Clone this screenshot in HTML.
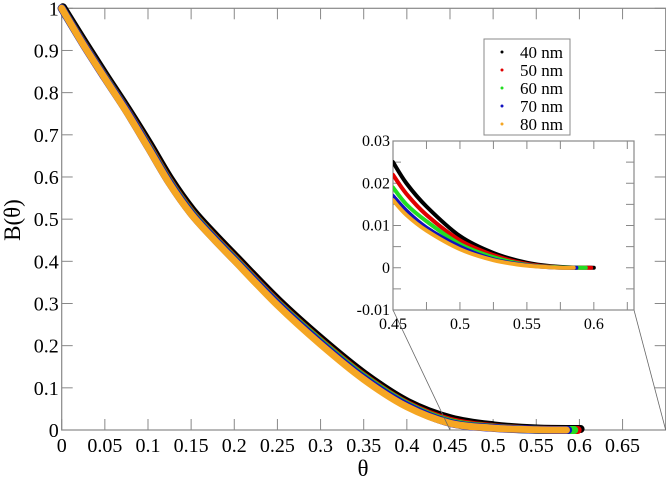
<!DOCTYPE html>
<html><head><meta charset="utf-8"><style>
html,body{margin:0;padding:0;background:#fff;}
svg{display:block;}
svg text{font-family:"Liberation Serif","DejaVu Serif","Times New Roman",serif;}
</style></head><body>
<svg id="chart" width="666" height="477" viewBox="0 0 666 477" xmlns="http://www.w3.org/2000/svg">
<defs><clipPath id="inclip"><rect x="393" y="141" width="241" height="169"/></clipPath></defs>
<g id="main"></g>
<g id="inset"></g>
<g id="legend"></g>
</svg>
<script>
const seriesNames=["40 nm","50 nm","60 nm","70 nm","80 nm"];
const seriesColors=["#000000","#e00000","#22dd22","#1010c0","#f5a623"];
const mainTheta=[0,0.025,0.05,0.075,0.1,0.125,0.15,0.175,0.2,0.25,0.3,0.35,0.4,0.45,0.5,0.55,0.6];
const main40=[1,0.918,0.838,0.76,0.678,0.592,0.52,0.463,0.41,0.305,0.213,0.13,0.064,0.025,0.0085,0.0012,0];
const main50=[1,0.917,0.837,0.759,0.676,0.59,0.518,0.461,0.408,0.303,0.211,0.128,0.062,0.022,0.007,0.0009,0];
const main60=[1,0.916,0.836,0.758,0.674,0.588,0.516,0.459,0.406,0.301,0.209,0.126,0.06,0.019,0.0058,0.0007,0];
const main70=[1,0.915,0.835,0.757,0.672,0.586,0.514,0.457,0.404,0.299,0.206,0.123,0.058,0.017,0.005,0.0006,0];
const main80=[1,0.914,0.834,0.755,0.67,0.584,0.512,0.455,0.402,0.296,0.203,0.12,0.055,0.016,0.0045,0.0005,0];
const insetTheta=[0.45,0.46,0.475,0.5,0.525,0.55,0.575,0.6];
const inset40=[0.025,0.02,0.0145,0.0075,0.0035,0.0012,0.0002,0];
const inset50=[0.022,0.0175,0.0125,0.0065,0.003,0.0009,0.0001,0];
const inset60=[0.019,0.015,0.011,0.0056,0.0025,0.0007,0.0001,0];
const inset70=[0.017,0.0135,0.0095,0.005,0.002,0.0006,0,0];
const inset80=[0.016,0.0125,0.0088,0.0044,0.0018,0.0005,0,0];
const seriesEnd=[0.607,0.598,0.594,0.587,0.585];
const mainXTicks=[0,0.05,0.1,0.15,0.2,0.25,0.3,0.35,0.4,0.45,0.5,0.55,0.6,0.65];
const mainXLabels=["0","0.05","0.1","0.15","0.2","0.25","0.3","0.35","0.4","0.45","0.5","0.55","0.6","0.65"];
const mainYTicks=[0,0.1,0.2,0.3,0.4,0.5,0.6,0.7,0.8,0.9,1];
const mainYLabels=["0","0.1","0.2","0.3","0.4","0.5","0.6","0.7","0.8","0.9","1"];
const insetXTicks=[0.45,0.5,0.55,0.6];
const insetXLabels=["0.45","0.5","0.55","0.6"];
const insetYTicks=[-0.01,0,0.01,0.02,0.03];
const insetYLabels=["-0.01","0","0.01","0.02","0.03"];

const NS="http://www.w3.org/2000/svg";
const FF='Liberation Serif, DejaVu Serif, Times New Roman, serif';
function mk(parent,tag,attrs,text){const e=document.createElementNS(NS,tag);for(const k in attrs)e.setAttribute(k,attrs[k]);if(text!==undefined){e.textContent=text;e.setAttribute('font-family',FF);}parent.appendChild(e);return e;}
const M={x0:61.7,x1:665.7,y0:430,y1:8.3,xmin:0,xmax:0.7,ymin:0,ymax:1};
const I={x0:393,x1:634,y0:310,y1:141,xmin:0.45,xmax:0.63,ymin:-0.01,ymax:0.03};
const sx=(A,v)=>A.x0+(v-A.xmin)/(A.xmax-A.xmin)*(A.x1-A.x0);
const sy=(A,v)=>A.y0-(v-A.ymin)/(A.ymax-A.ymin)*(A.y0-A.y1);
function smooth(p){let d='M'+p[0][0]+','+p[0][1];
  for(let i=0;i<p.length-1;i++){const p0=p[i-1]||p[i],p1=p[i],p2=p[i+1],p3=p[i+2]||p2;
    const c1x=p1[0]+(p2[0]-p0[0])/6,c1y=p1[1]+(p2[1]-p0[1])/6,c2x=p2[0]-(p3[0]-p1[0])/6,c2y=p2[1]-(p3[1]-p1[1])/6;
    d+=' C'+c1x+','+c1y+' '+c2x+','+c2y+' '+p2[0]+','+p2[1];}
  return d;}

const mainG=document.getElementById('main');
const insetG=document.getElementById('inset');
const legG=document.getElementById('legend');
const mainVals=[main40,main50,main60,main70,main80];
const insetVals=[inset40,inset50,inset60,inset70,inset80];

let fr=mk(mainG,'rect',{x:M.x0,y:M.y1,width:M.x1-M.x0,height:M.y0-M.y1,fill:'none',stroke:'#888','stroke-width':1.2});


mainXTicks.forEach((t,i)=>{const x=sx(M,t);
  mk(mainG,'line',{x1:x,y1:M.y0,x2:x,y2:M.y0-11,stroke:'#888'});
  mk(mainG,'line',{x1:x,y1:M.y1,x2:x,y2:M.y1+11,stroke:'#888'});
  const tx=mk(mainG,'text',{x:x,y:452,'font-size':20,'text-anchor':'middle',fill:'#000'},mainXLabels[i]);
  
  
});
mainYTicks.forEach((t,i)=>{const y=sy(M,t);
  mk(mainG,'line',{x1:M.x0,y1:y,x2:M.x0+11,y2:y,stroke:'#888'});
  mk(mainG,'line',{x1:M.x1,y1:y,x2:M.x1-11,y2:y,stroke:'#888'});
  const tx=mk(mainG,'text',{x:M.x0-3,y:y+7,'font-size':20,'text-anchor':'end',fill:'#000'},mainYLabels[i]);
  
  
});
let xt=mk(mainG,'text',{x:363,y:476,'font-size':23,'text-anchor':'middle'},'θ');


let yt=mk(mainG,'text',{x:0,y:0,'font-size':23,'text-anchor':'middle',transform:'translate(20,220) rotate(-90)'},'B(θ)');



mainVals.forEach((vals,s)=>{
  const pts=[];mainTheta.forEach((t,i)=>{pts.push([sx(M,Math.min(t,seriesEnd[s])),sy(M,vals[i])]);});
  const p=mk(mainG,'path',{d:smooth(pts),fill:'none',stroke:seriesColors[s],'stroke-width':s===4?7:8,'stroke-linejoin':'round','stroke-linecap':'round',transform:'translate('+(s===0?1.2:0)+','+(s===0?-1:0)+')'});
  
  
});
mk(mainG,'line',{x1:I.x0,y1:I.y0,x2:sx(M,0.45),y2:M.y0,stroke:'#666','stroke-width':0.8});
mk(mainG,'line',{x1:I.x1,y1:I.y0,x2:M.x1,y2:M.y0,stroke:'#666','stroke-width':0.8});

let ib=mk(insetG,'rect',{x:I.x0,y:I.y1,width:I.x1-I.x0,height:I.y0-I.y1,fill:'#fff',stroke:'#888','stroke-width':1.2});


for(let t=0.45;t<0.631;t+=0.025){const x=sx(I,t);
  mk(insetG,'line',{x1:x,y1:I.y0,x2:x,y2:I.y0-8,stroke:'#888'});
  mk(insetG,'line',{x1:x,y1:I.y1,x2:x,y2:I.y1+8,stroke:'#888'});}
for(let v=-0.01;v<0.0301;v+=0.005){const y=sy(I,v);
  mk(insetG,'line',{x1:I.x0,y1:y,x2:I.x0+8,y2:y,stroke:'#888'});
  mk(insetG,'line',{x1:I.x1,y1:y,x2:I.x1-8,y2:y,stroke:'#888'});}
insetXTicks.forEach((t,i)=>{const tx=mk(insetG,'text',{x:sx(I,t),y:329,'font-size':16,'text-anchor':'middle'},insetXLabels[i]);
  
  });
insetYTicks.forEach((t,i)=>{const tx=mk(insetG,'text',{x:I.x0-3,y:sy(I,t)+5,'font-size':16,'text-anchor':'end'},insetYLabels[i]);
  
  });
const ic=mk(insetG,'g',{'clip-path':'url(#inclip)'});
insetVals.forEach((vals,s)=>{
  const pts=[];insetTheta.forEach((t,i)=>{pts.push([sx(I,Math.min(t,seriesEnd[s])),sy(I,vals[i])]);});
  const p=mk(ic,'path',{d:smooth(pts),fill:'none',stroke:seriesColors[s],'stroke-width':4,'stroke-linejoin':'round','stroke-linecap':'round'});
  
  
});

let lb=mk(legG,'rect',{x:484,y:39,width:86,height:96,fill:'#fff',stroke:'#888','stroke-width':1});


seriesNames.forEach((n,i)=>{const y=52+i*18;
  mk(legG,'circle',{cx:502,cy:y,r:1.5,fill:seriesColors[i]});
  const tx=mk(legG,'text',{x:520,y:y+6,'font-size':17},n);
  
  });
</script>
</body></html>
